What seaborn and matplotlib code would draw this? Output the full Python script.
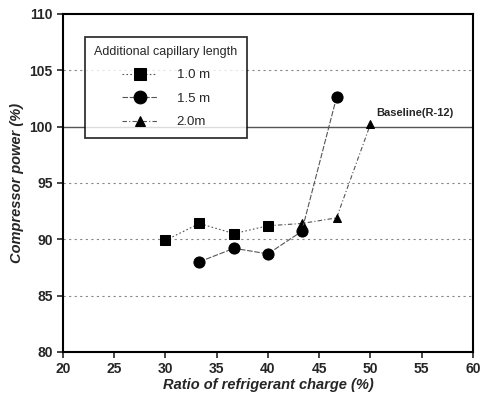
import numpy as np
import pandas as pd
import matplotlib
matplotlib.use("Agg")
import matplotlib.pyplot as plt
import seaborn as sns

# data
x_10 = [30.0, 33.3, 36.7, 40.0]
y_10 = [89.9, 91.4, 90.5, 91.2]
x_15 = [33.3, 36.7, 40.0, 43.3, 46.7]
y_15 = [88.0, 89.2, 88.7, 90.7, 102.6]
x_20 = [40.0, 43.3, 46.7, 50.0]
y_20 = [91.2, 91.4, 91.9, 100.2]
labels = ["1.0 m", "1.5 m", "2.0m"]
baseline = 100

sns.set_style("ticks")
plt.rcParams['font.family'] = ['Liberation Sans', 'DejaVu Sans']

fig = plt.figure(figsize=(4.81, 3.99), dpi=100)
ax = fig.add_axes([0.131, 0.118, 0.852, 0.847])

for yv in [85, 90, 95, 105]:
    ax.axhline(yv, color='#888888', lw=0.8, ls=(0, (2, 3)), zorder=0)
ax.axhline(baseline, color='#555555', lw=1.0, zorder=0)

series = [(x_10, y_10, 's', (0, (1.5, 2)), 7.5, 3),
          (x_15, y_15, 'o', (0, (5, 1.5)), 8, 2),
          (x_20, y_20, '^', (0, (4, 2, 1, 2)), 6, 1)]
for (xs, ys, mk, ls, ms, z), lab in zip(series, labels):
    df = pd.DataFrame({'x': xs, 'y': ys})
    sns.lineplot(data=df, x='x', y='y', ax=ax, color='#555555', lw=0.8,
                 linestyle=ls, marker=mk, markersize=ms,
                 markerfacecolor='black', markeredgecolor='black',
                 label=lab, zorder=z)

ax.text(50.6, 101.2, "Baseline(R-12)", fontsize=8, fontweight='bold',
        va='center', ha='left')

ax.set_xlim(20, 60)
ax.set_ylim(80, 110)
ax.set_xticks(np.arange(20, 61, 5))
ax.set_yticks(np.arange(80, 111, 5))
ax.tick_params(labelsize=10, width=1.2, length=4, direction='out')
for t in ax.get_xticklabels() + ax.get_yticklabels():
    t.set_fontweight('bold')
for s in ax.spines.values():
    s.set_visible(True)
    s.set_linewidth(1.5)
    s.set_color('black')

ax.set_xlabel("Ratio of refrigerant charge (%)", fontsize=10.5,
              fontweight='bold', fontstyle='italic', labelpad=1)
ax.set_ylabel("Compressor power (%)", fontsize=10.5,
              fontweight='bold', fontstyle='italic', labelpad=4)

leg = ax.legend(title="Additional capillary length", loc='upper left',
                bbox_to_anchor=(0.038, 0.952), fontsize=9.5, title_fontsize=9,
                frameon=True, fancybox=False, edgecolor='black',
                handlelength=2.6, labelspacing=0.85, borderpad=0.7,
                handletextpad=1.5, markerscale=1.15)
leg.get_frame().set_linewidth(1.3)

fig.savefig("out.png", dpi=100)
